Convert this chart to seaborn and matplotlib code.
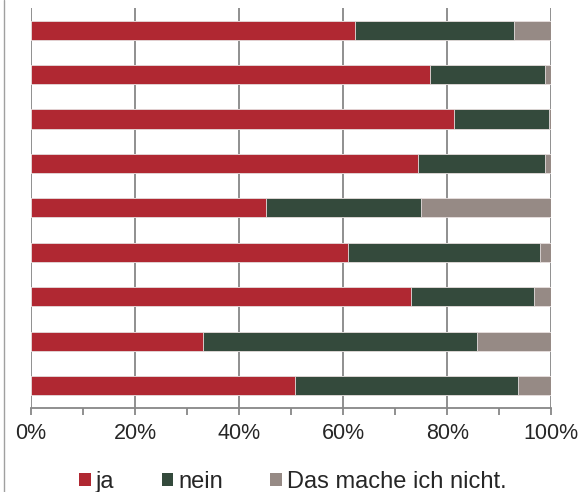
import pandas as pd
import seaborn as sns
import matplotlib.pyplot as plt
from matplotlib.patches import Patch
from matplotlib.lines import Line2D

# values in percent, top bar first
items = ['1', '2', '3', '4', '5', '6', '7', '8', '9']
ja = [62.3, 76.6, 81.3, 74.3, 45.2, 60.9, 73.0, 33.1, 50.7]
nein = [30.6, 22.1, 18.3, 24.4, 29.7, 37.0, 23.7, 52.7, 42.8]
nicht = [7.1, 1.3, 0.4, 1.3, 25.1, 2.1, 3.3, 14.2, 6.5]
labels = ['ja', 'nein', 'Das mache ich nicht.']
colors = ['#B02832', '#344A3C', '#968A85']

df = pd.DataFrame({'item': items, 'ja': ja, 'nein': nein, 'nicht': nicht})
df['c1'] = df['ja']
df['c2'] = df['ja'] + df['nein']
df['c3'] = df['c2'] + df['nicht']

sns.set_style('white')
plt.rcParams['font.family'] = ['Liberation Sans', 'DejaVu Sans']

fig = plt.figure(figsize=(5.82, 4.92), dpi=100)
ax = fig.add_axes([0.0533, 0.171, 0.894, 0.813])
ax.set_axisbelow(True)

for col, c in zip(['c3', 'c2', 'c1'], colors[::-1]):
    sns.barplot(data=df, x=col, y='item', orient='h', color=c, width=0.43,
                saturation=1, edgecolor='#e8e0e0', linewidth=0.6, ax=ax)

ax.set_xlim(0, 100)
ax.set_ylim(8.5, -0.5)
ax.set_xticks(range(0, 101, 20))
ax.set_xticks(range(10, 100, 20), minor=True)
ax.set_xticklabels([f'{v}%' for v in range(0, 101, 20)], fontsize=15.5)
ax.grid(axis='x', which='major', color='#878787', linewidth=1.3)
ax.tick_params(axis='x', which='both', length=5, width=1.3, color='#878787', pad=6, bottom=True)
ax.set_yticks([])
ax.set_xlabel('')
ax.set_ylabel('')
for s in ['top', 'right', 'left']:
    ax.spines[s].set_visible(False)
ax.spines['bottom'].set_color('#878787')
ax.spines['bottom'].set_linewidth(1.3)

# chart border on the left
fig.add_artist(Line2D([0.007, 0.007], [0.0, 1.0], color='#a0a0a0', linewidth=1))

handles = [Patch(facecolor=c, edgecolor='none') for c in colors]
fig.legend(handles, labels, loc='center', bbox_to_anchor=(0.503, 1 - 482 / 492), ncol=3,
           frameon=False, fontsize=17, handlelength=0.5, handleheight=0.5,
           handletextpad=0.2, columnspacing=2.0, borderpad=0)

fig.savefig('out.png', dpi=100)
